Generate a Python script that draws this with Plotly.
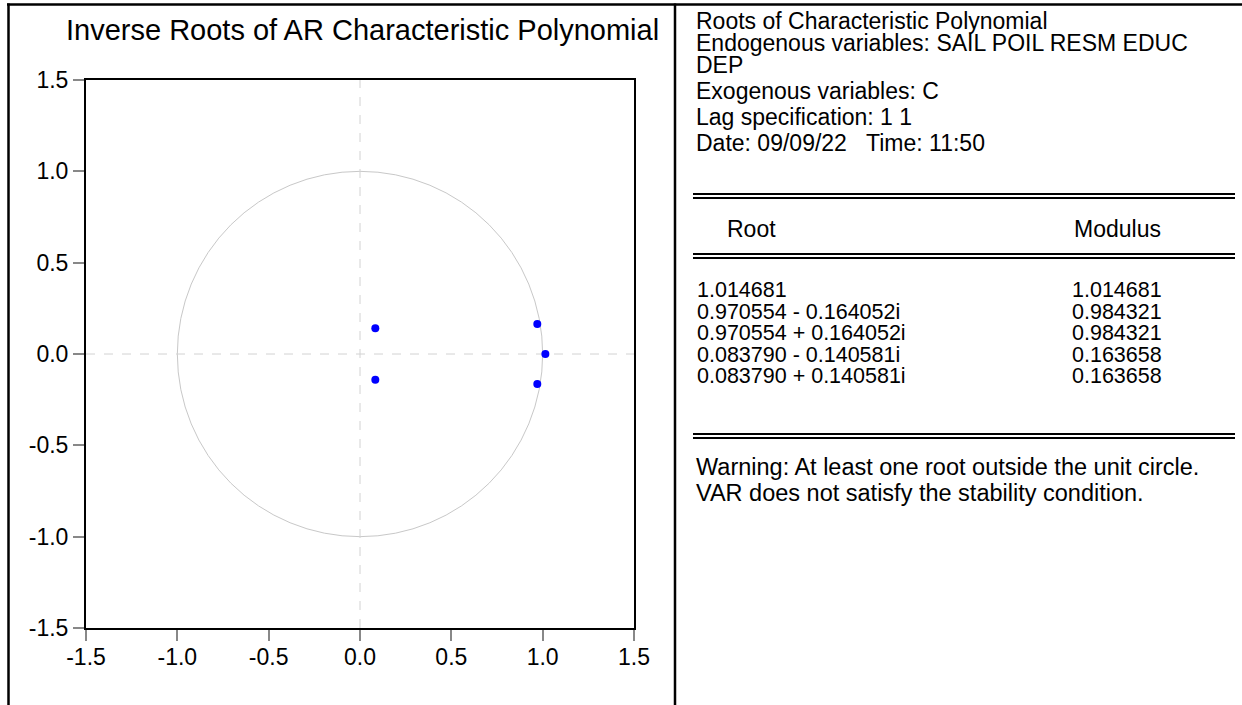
import plotly.graph_objects as go

# ---- data ----
root_real = [1.014681, 0.970554, 0.970554, 0.083790, 0.083790]
root_imag = [0.0, -0.164052, 0.164052, -0.140581, 0.140581]
root_labels = ["1.014681", "0.970554 - 0.164052i", "0.970554 + 0.164052i",
               "0.083790 - 0.140581i", "0.083790 + 0.140581i"]
modulus_labels = ["1.014681", "0.984321", "0.984321", "0.163658", "0.163658"]
tick_vals = [-1.5, -1.0, -0.5, 0.0, 0.5, 1.0, 1.5]
tick_text = ["-1.5", "-1.0", "-0.5", "0.0", "0.5", "1.0", "1.5"]
header_lines = ["Roots of Characteristic Polynomial",
                "Endogenous variables: SAIL POIL RESM EDUC",
                "DEP",
                "Exogenous variables: C",
                "Lag specification: 1 1",
                "Date: 09/09/22\u00a0\u00a0\u00a0Time: 11:50"]
warning_lines = ["Warning: At least one root outside the unit circle.",
                 "VAR does not satisfy the stability condition."]
title_text = "Inverse Roots of AR Characteristic Polynomial"

W, H = 1242, 705
FONT = "Liberation Sans, Arial, sans-serif"
TXT = 23        # descriptive text
NUM = 21.5      # numeric table rows

def px(x):
    return x / W

def py(y):
    return 1 - y / H

fig = go.Figure()
fig.add_trace(go.Scatter(x=root_real, y=root_imag, mode="markers",
                         marker=dict(color="#0000ff", size=8),
                         showlegend=False, hoverinfo="x+y"))

shapes = []
shapes.append(dict(type="circle", xref="x", yref="y", x0=-1, y0=-1, x1=1, y1=1,
                   line=dict(color="#c8c8c8", width=1), layer="below"))
shapes.append(dict(type="line", xref="x", yref="y", x0=0, x1=0, y0=-1.5, y1=1.5,
                   line=dict(color="#d2d2d2", width=1, dash="dash"), layer="below"))
shapes.append(dict(type="line", xref="x", yref="y", x0=-1.5, x1=1.5, y0=0, y1=0,
                   line=dict(color="#d2d2d2", width=1, dash="dash"), layer="below"))
# outer frame
shapes.append(dict(type="line", xref="paper", yref="paper", x0=px(7), x1=1, y0=py(4.5), y1=py(4.5),
                   line=dict(color="black", width=2.5)))
shapes.append(dict(type="line", xref="paper", yref="paper", x0=px(8.5), x1=px(8.5), y0=py(3.5), y1=0,
                   line=dict(color="black", width=2.5)))
shapes.append(dict(type="line", xref="paper", yref="paper", x0=px(675), x1=px(675), y0=py(3.5), y1=0,
                   line=dict(color="black", width=2.5)))
for yy in (194, 198, 254, 258, 434, 438):
    shapes.append(dict(type="line", xref="paper", yref="paper", x0=px(693), x1=px(1235),
                       y0=py(yy), y1=py(yy), line=dict(color="black", width=2)))

def text(t, x, y, size=TXT, anchor="left"):
    return dict(text=t, x=px(x), y=py(y), xref="paper", yref="paper",
                xanchor=anchor, yanchor="middle", showarrow=False,
                font=dict(family=FONT, size=size, color="black"))

ann = [text(title_text, 362, 30, size=29, anchor="center")]
header_y = [21, 43, 65, 91, 117, 143]
for t, yy in zip(header_lines, header_y):
    ann.append(text(t, 694, yy))
ann.append(text("Root", 725, 229))
ann.append(text("Modulus", 1072, 229))
row_y = [290, 311.5, 333, 354.5, 376]
for r, m, yy in zip(root_labels, modulus_labels, row_y):
    ann.append(text(r, 695, yy, size=NUM))
    ann.append(text(m, 1070, yy, size=NUM))
for t, yy in zip(warning_lines, [467, 493]):
    ann.append(text(t, 694, yy, size=23.5))

axis_common = dict(range=[-1.5, 1.5], tickvals=tick_vals, ticktext=tick_text,
                   showgrid=False, zeroline=False, showline=True, mirror=True,
                   linecolor="black", linewidth=2, ticks="outside", ticklen=11,
                   tickcolor="#888888", tickwidth=1.5, automargin=False,
                   tickfont=dict(family=FONT, size=23, color="black"), fixedrange=True)

fig.update_layout(
    width=W, height=H, margin=dict(l=0, r=0, t=0, b=0, autoexpand=False),
    paper_bgcolor="white", plot_bgcolor="white",
    xaxis=dict(domain=[px(86), px(634)], ticklabelstandoff=-4, **axis_common),
    yaxis=dict(domain=[py(628), py(80)], **axis_common),
    shapes=shapes, annotations=ann,
)

fig.write_html("out.html")
